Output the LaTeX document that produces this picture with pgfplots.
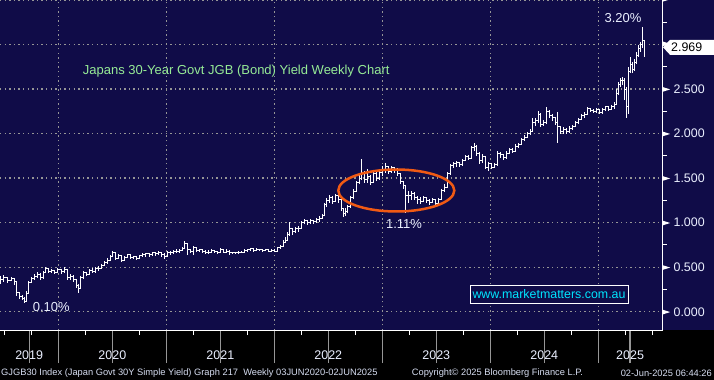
\documentclass[border=0pt]{standalone}
\usepackage{pgfplots}
\pgfplotsset{compat=1.18}
\usepackage{pgfplotstable}
\usepackage{fontspec}
\setmainfont{Liberation Sans}
\definecolor{navy}{RGB}{16,12,72}
\definecolor{gridgray}{RGB}{150,150,150}
\definecolor{mmorange}{RGB}{240,90,20}
\definecolor{ttlgreen}{RGB}{150,235,150}
\definecolor{wmcyan}{RGB}{0,230,255}
\definecolor{foot}{RGB}{215,222,242}
\definecolor{lbl}{RGB}{235,240,255}
\newcommand{\tri}{\tikz[baseline=-0.6ex]\fill[white] (0,2.5bp)--(8bp,0)--(0,-2.5bp)--cycle;}

\pgfplotstableread{
px c h l
0 0.36 0.40 0.31
4 0.38 0.41 0.33
8 0.35 0.38 0.32
12 0.37 0.39 0.34
15 0.34 0.37 0.30
17 0.22 0.30 0.18
20 0.17 0.21 0.14
23 0.15 0.19 0.13
25 0.12 0.16 0.10
27 0.20 0.23 0.11
29 0.33 0.35 0.20
32 0.37 0.39 0.32
35 0.40 0.42 0.36
38 0.42 0.45 0.38
41 0.38 0.43 0.36
44 0.44 0.46 0.37
46 0.48 0.50 0.43
49 0.45 0.49 0.43
52 0.46 0.48 0.43
55 0.44 0.47 0.42
58 0.47 0.49 0.43
62 0.45 0.48 0.42
65 0.47 0.50 0.44
68 0.38 0.46 0.36
71 0.40 0.42 0.36
74 0.36 0.41 0.33
77 0.30 0.37 0.27
79 0.26 0.31 0.21
81 0.38 0.40 0.25
84 0.44 0.46 0.37
87 0.42 0.45 0.40
90 0.46 0.48 0.41
93 0.45 0.49 0.43
96 0.48 0.50 0.44
99 0.49 0.51 0.46
102 0.52 0.54 0.48
105 0.55 0.57 0.51
108 0.58 0.60 0.54
111 0.62 0.64 0.57
113 0.66 0.68 0.61
116 0.60 0.66 0.58
119 0.63 0.65 0.59
122 0.58 0.63 0.56
125 0.61 0.63 0.57
128 0.64 0.65 0.60
131 0.61 0.64 0.59
134 0.62 0.63 0.59
137 0.60 0.63 0.58
140 0.63 0.64 0.59
143 0.64 0.66 0.61
146 0.65 0.66 0.62
150 0.64 0.66 0.62
153 0.66 0.67 0.63
156 0.65 0.67 0.63
159 0.67 0.68 0.64
162 0.64 0.67 0.61
165 0.62 0.66 0.59
168 0.67 0.68 0.63
171 0.66 0.68 0.64
174 0.68 0.69 0.65
177 0.68 0.70 0.66
180 0.69 0.70 0.66
183 0.71 0.73 0.68
185 0.77 0.79 0.70
188 0.70 0.77 0.64
191 0.68 0.71 0.66
194 0.72 0.74 0.64
197 0.69 0.72 0.67
200 0.70 0.71 0.67
203 0.68 0.70 0.66
206 0.66 0.69 0.65
209 0.67 0.69 0.65
212 0.69 0.70 0.66
215 0.68 0.69 0.66
218 0.66 0.68 0.65
221 0.70 0.72 0.66
224 0.67 0.70 0.66
227 0.68 0.71 0.66
230 0.66 0.69 0.64
233 0.66 0.67 0.65
236 0.66 0.67 0.65
239 0.67 0.68 0.65
242 0.67 0.68 0.66
245 0.69 0.70 0.66
248 0.70 0.71 0.67
251 0.71 0.72 0.68
254 0.69 0.71 0.67
257 0.70 0.72 0.68
260 0.70 0.71 0.68
263 0.69 0.70 0.67
266 0.70 0.71 0.68
269 0.68 0.70 0.67
272 0.69 0.70 0.67
275 0.68 0.70 0.67
278 0.72 0.73 0.68
281 0.73 0.75 0.71
284 0.78 0.80 0.73
286 0.80 0.84 0.77
288 0.87 0.89 0.79
290 0.93 1.01 0.85
293 0.90 0.94 0.86
296 0.93 0.95 0.88
299 0.94 0.96 0.90
302 1.00 1.02 0.93
305 1.02 1.04 0.98
308 1.00 1.03 0.97
311 1.02 1.04 0.99
314 1.01 1.03 0.98
317 1.03 1.05 1.00
320 1.05 1.07 1.01
323 1.08 1.10 1.04
325 1.20 1.22 1.08
327 1.25 1.28 1.18
330 1.28 1.31 1.22
333 1.24 1.30 1.21
336 1.30 1.32 1.23
339 1.26 1.31 1.22
342 1.16 1.26 1.13
344 1.10 1.17 1.06
346 1.13 1.16 1.08
348 1.18 1.20 1.11
351 1.28 1.30 1.17
354 1.35 1.38 1.27
357 1.45 1.47 1.34
360 1.50 1.54 1.43
362 1.56 1.71 1.48
365 1.48 1.58 1.45
368 1.52 1.60 1.44
371 1.45 1.54 1.42
374 1.55 1.57 1.44
377 1.50 1.58 1.47
380 1.56 1.60 1.48
383 1.60 1.64 1.52
386 1.63 1.67 1.56
389 1.58 1.64 1.55
392 1.62 1.64 1.56
395 1.60 1.63 1.56
398 1.55 1.61 1.52
401 1.46 1.56 1.43
404 1.42 1.47 1.38
406 1.30 1.42 1.11
409 1.30 1.36 1.22
412 1.33 1.36 1.26
415 1.28 1.34 1.25
418 1.26 1.30 1.21
421 1.24 1.29 1.21
424 1.28 1.30 1.23
427 1.25 1.29 1.22
430 1.23 1.27 1.20
433 1.26 1.28 1.22
436 1.22 1.27 1.20
439 1.26 1.28 1.21
442 1.36 1.38 1.25
445 1.40 1.43 1.34
448 1.55 1.57 1.39
451 1.64 1.66 1.53
454 1.66 1.68 1.61
457 1.67 1.69 1.63
460 1.65 1.68 1.62
463 1.70 1.72 1.64
466 1.74 1.76 1.69
469 1.72 1.76 1.70
472 1.84 1.86 1.71
475 1.86 1.90 1.81
477 1.78 1.87 1.75
480 1.70 1.79 1.66
483 1.74 1.77 1.67
486 1.62 1.75 1.60
489 1.66 1.68 1.58
492 1.62 1.67 1.60
495 1.65 1.67 1.61
498 1.78 1.80 1.64
501 1.76 1.79 1.73
504 1.73 1.77 1.70
507 1.78 1.80 1.72
510 1.82 1.84 1.77
513 1.80 1.84 1.78
516 1.86 1.88 1.79
519 1.88 1.90 1.84
522 1.93 1.95 1.87
525 1.96 1.98 1.92
528 2.00 2.02 1.95
531 2.02 2.05 1.98
533 2.12 2.17 2.02
536 2.15 2.18 2.08
539 2.22 2.25 2.12
541 2.10 2.23 2.07
544 2.12 2.15 2.08
547 2.25 2.30 2.11
550 2.20 2.27 2.17
553 2.18 2.22 2.14
556 2.12 2.19 2.10
558 2.08 2.24 1.90
561 2.02 2.09 2.00
564 2.05 2.07 2.00
567 2.02 2.06 1.99
570 2.06 2.08 2.01
573 2.08 2.10 2.04
576 2.12 2.14 2.07
579 2.16 2.18 2.11
582 2.20 2.22 2.15
585 2.22 2.24 2.18
588 2.28 2.30 2.21
591 2.26 2.29 2.24
594 2.25 2.28 2.23
597 2.27 2.29 2.23
600 2.24 2.28 2.22
603 2.27 2.29 2.22
606 2.30 2.31 2.25
609 2.27 2.31 2.25
612 2.30 2.32 2.26
615 2.33 2.35 2.28
617 2.45 2.50 2.32
619 2.55 2.58 2.43
621 2.60 2.62 2.52
623 2.60 2.63 2.55
625 2.50 2.62 2.38
627 2.30 2.52 2.18
629 2.70 2.75 2.22
631 2.78 2.86 2.68
633 2.72 2.80 2.68
635 2.80 2.84 2.70
637 2.88 2.92 2.78
639 2.95 2.99 2.86
641 3.00 3.03 2.92
643 3.05 3.20 2.96
645 2.97 3.02 2.86
}\jgb

\begin{document}
\begin{tikzpicture}
\useasboundingbox (0,-50bp) rectangle (714bp,330bp);
\fill[navy] (0,0) rectangle (714bp,330bp);
\fill[black] (0,-50bp) rectangle (714bp,0);
\begin{axis}[
  at={(0,0)}, anchor=south west,
  scale only axis, width=662bp, height=330bp,
  xmin=2019.46, xmax=2025.59, ymin=-0.205, ymax=3.5,
  axis line style={draw=none},
  xtick={2020,2021,2022,2023,2024,2025},
  xticklabels={},
  minor xtick={2019.5,2019.75,2020.25,2020.5,2020.75,2021.25,2021.5,2021.75,2022.25,2022.5,2022.75,2023.25,2023.5,2023.75,2024.25,2024.5,2024.75,2025.25,2025.5},
  ytick={0,0.5,1,1.5,2,2.5,3,3.5},
  yticklabels={\tri\ 0.000,\tri\ 0.500,\tri\ 1.000,\tri\ 1.500,\tri\ 2.000,\tri\ 2.500,\tri,\tri},
  minor ytick={0.25,0.75,1.25,1.75,2.25,2.75,3.25},
  xtick pos=bottom, ytick pos=right, yticklabel pos=right,
  tick align=outside,
  major tick length=0pt, minor tick length=5bp,
  major x tick style={/pgfplots/major tick length=33bp, draw=gridgray, line width=1.3bp},
  minor tick style={draw=white, line width=1bp},
  grid=major,
  major grid style={gridgray, line width=1.4bp, dash pattern=on 1.4bp off 3.2bp},
  yticklabel style={anchor=west, inner sep=0pt, text=lbl, font=\fontsize{12.4bp}{14bp}\selectfont},
  extra x ticks={2019.73,2020.5,2021.5,2022.5,2023.5,2024.5,2025.295},
  extra x tick labels={2019,2020,2021,2022,2023,2024,2025},
  extra x tick style={grid=none, major tick length=0pt, tick style={draw=none},
    xticklabel style={anchor=center, yshift=-25bp, text=lbl, font=\fontsize{12.5bp}{14bp}\selectfont}},
]
\addplot[white, line width=1bp, const plot, mark=none,
  error bars/.cd, y dir=both, y explicit, error mark=none,
  error bar style={white, line width=1bp}]
  table[x expr=2019.46+\thisrow{px}/108, y=c,
        y error plus expr=\thisrow{h}-\thisrow{c},
        y error minus expr=\thisrow{c}-\thisrow{l}] {\jgb};
\coordinate (last) at (axis cs:2025.59,2.969);
\end{axis}
\draw[white, line width=1bp] (0,0) -- (662bp,0) -- (662bp,330bp);
% last price flag
\fill[white] ([xshift=1bp]last) -- ([xshift=8bp,yshift=7.5bp]last) -- ([xshift=60bp,yshift=7.5bp]last)
  -- ([xshift=60bp,yshift=-7.5bp]last) -- ([xshift=8bp,yshift=-7.5bp]last) -- cycle;
\node[anchor=west, inner sep=0pt, text=black, font=\fontsize{12.4bp}{14bp}\selectfont] at ([xshift=9bp]last) {2.969};
% annotations
\node[anchor=west, inner sep=0pt, text=ttlgreen, font=\fontsize{13bp}{15bp}\selectfont] at (82.7bp,259.3bp) {Japans 30-Year Govt JGB (Bond) Yield Weekly Chart};
\node[inner sep=0pt, text=lbl, font=\fontsize{13bp}{15bp}\selectfont] at (623bp,311.7bp) {3.20\%};
\node[inner sep=0pt, text=lbl, font=\fontsize{13bp}{15bp}\selectfont] at (51.3bp,23.3bp) {0.10\%};
\node[inner sep=0pt, text=lbl, font=\fontsize{13bp}{15bp}\selectfont] at (404bp,105.7bp) {1.11\%};
\draw[mmorange, line width=2.5bp] (396.3bp,139.5bp) ellipse [x radius=58bp, y radius=21bp];
\node[draw=white, line width=1bp, fill=navy, text=wmcyan, minimum width=158bp, minimum height=17.6bp, inner sep=0pt,
  font=\fontsize{12.4bp}{14bp}\selectfont] at (549bp,35.5bp) {www.marketmatters.com.au};
% footer
\node[anchor=west, inner sep=0pt, text=foot, font=\fontsize{9.3bp}{11bp}\selectfont] at (1bp,-43bp) {GJGB30 Index (Japan Govt 30Y Simple Yield) Graph 217\ \ Weekly 03JUN2020-02JUN2025};
\node[anchor=west, inner sep=0pt, text=foot, font=\fontsize{9.3bp}{11bp}\selectfont] at (411.7bp,-43bp) {Copyright© 2025 Bloomberg Finance L.P.};
\node[anchor=east, inner sep=0pt, text=foot, font=\fontsize{9.3bp}{11bp}\selectfont] at (712bp,-43bp) {02-Jun-2025 06:44:26};
\end{tikzpicture}
\end{document}
